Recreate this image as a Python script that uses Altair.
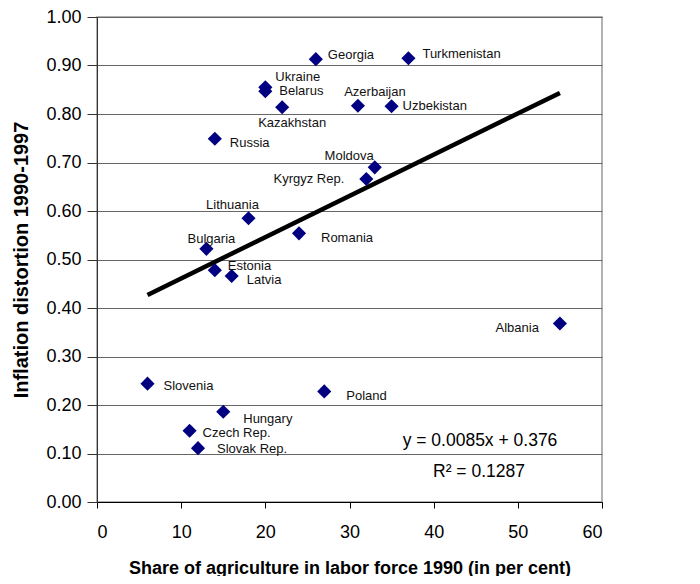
import altair as alt
import pandas as pd

# ---- data ----
countries = ["Georgia", "Turkmenistan", "Ukraine", "Belarus", "Kazakhstan", "Azerbaijan",
             "Uzbekistan", "Russia", "Moldova", "Kyrgyz Rep.", "Lithuania", "Romania",
             "Bulgaria", "Estonia", "Latvia", "Albania", "Slovenia", "Poland", "Hungary",
             "Czech Rep.", "Slovak Rep."]
agri_share = [26, 37, 20, 20, 22, 31, 35, 14, 33, 32, 18, 24, 13, 14, 16, 55, 6, 27, 15, 11, 12]
inflation_dist = [0.913, 0.915, 0.855, 0.847, 0.814, 0.817, 0.816, 0.749, 0.690, 0.666, 0.585,
                  0.554, 0.522, 0.478, 0.466, 0.368, 0.244, 0.228, 0.186, 0.147, 0.111]

trend_slope = 0.0085
trend_intercept = 0.376
equation_text = "y = 0.0085x + 0.376"
r2_text = "R\u00b2 = 0.1287"

x_ticks = [0, 10, 20, 30, 40, 50, 60]
y_ticks = [0.0, 0.1, 0.2, 0.3, 0.4, 0.5, 0.6, 0.7, 0.8, 0.9, 1.0]

# ---- label placement (layout only): align, dx, dy in pixels ----
label_layout = {
    "Georgia": ("left", 12, -4), "Turkmenistan": ("left", 14, -4),
    "Ukraine": ("left", 10, -10), "Belarus": ("left", 14, 0),
    "Kazakhstan": ("center", 10, 16), "Azerbaijan": ("center", 17, -14),
    "Uzbekistan": ("left", 11, 0), "Russia": ("left", 15, 4),
    "Moldova": ("right", -1, -11), "Kyrgyz Rep.": ("right", -22, 0),
    "Lithuania": ("center", -16, -13), "Romania": ("left", 22, 5),
    "Bulgaria": ("center", 5, -10), "Estonia": ("left", 13, -4),
    "Latvia": ("left", 15, 4), "Albania": ("right", -21, 4),
    "Slovenia": ("left", 16, 2), "Poland": ("left", 22, 5),
    "Hungary": ("left", 20, 7), "Czech Rep.": ("left", 13, 2),
    "Slovak Rep.": ("left", 19, 1),
}

FONT = "Liberation Sans"
PLOT_W, PLOT_H = 505, 485

df = pd.DataFrame({"country": countries, "agri": agri_share, "infl": inflation_dist})
x_lo, x_hi = min(agri_share), max(agri_share)
trend = pd.DataFrame({"agri": [x_lo, x_hi],
                      "infl": [trend_slope * x_lo + trend_intercept, trend_slope * x_hi + trend_intercept]})

x_enc = alt.X("agri:Q", scale=alt.Scale(domain=[0, 60], nice=False),
              axis=alt.Axis(values=x_ticks, title="Share of agriculture in labor force 1990 (in per cent)",
                            grid=False, tickSize=6, labelPadding=15, labelFontSize=18,
                            labelFont=FONT, labelColor="#000", tickColor="#000", domainColor="#000",
                            titleFont=FONT, titleFontSize=18, titleFontWeight="bold", titleColor="#000",
                            titleX=PLOT_W / 2, titleY=66, titleBaseline="middle", titleAlign="center"))
y_enc = alt.Y("infl:Q", scale=alt.Scale(domain=[0, 1], nice=False),
              axis=alt.Axis(values=y_ticks, format=".2f", title="Inflation distortion 1990-1997",
                            grid=True, gridColor="#666", gridWidth=1,
                            tickSize=10, labelPadding=6, labelFontSize=18,
                            labelFont=FONT, labelColor="#000", tickColor="#333", domainColor="#333",
                            titleFont=FONT, titleFontSize=20, titleFontWeight="bold", titleColor="#000",
                            titleX=-76, titleY=PLOT_H / 2, titleAngle=-90, titleBaseline="middle",
                            titleAlign="center"))

base = alt.Chart(df)

line = alt.Chart(trend).mark_line(color="#000", strokeWidth=4.5).encode(x=x_enc, y=y_enc)

points = base.mark_point(shape="diamond", filled=True, size=200, color="#000080", opacity=1).encode(
    x=x_enc, y=y_enc)

label_layers = []
for name in countries:
    align, dx, dy = label_layout[name]
    label_layers.append(
        base.transform_filter(alt.datum.country == name).mark_text(
            align=align, baseline="middle", dx=dx, dy=dy, font=FONT, fontSize=13, color="#111"
        ).encode(x="agri:Q", y="infl:Q", text="country:N")
    )

eq = alt.Chart(pd.DataFrame({"t": [equation_text]})).mark_text(
    font=FONT, fontSize=17.5, align="center", baseline="middle", color="#000"
).encode(x=alt.value(383), y=alt.value(424), text="t:N")
r2 = alt.Chart(pd.DataFrame({"t": [r2_text]})).mark_text(
    font=FONT, fontSize=17.5, align="center", baseline="middle", color="#000"
).encode(x=alt.value(382), y=alt.value(455), text="t:N")

chart = alt.layer(line, points, *label_layers, eq, r2).properties(
    width=PLOT_W, height=PLOT_H,
    autosize=alt.AutoSizeParams(type="none"),
    padding={"left": 89, "top": 9, "right": 90, "bottom": 74},
    background="white",
).configure_view(stroke="#999", strokeWidth=1.5)

chart.save("out.html", embed_options={"renderer": "svg", "actions": False})
